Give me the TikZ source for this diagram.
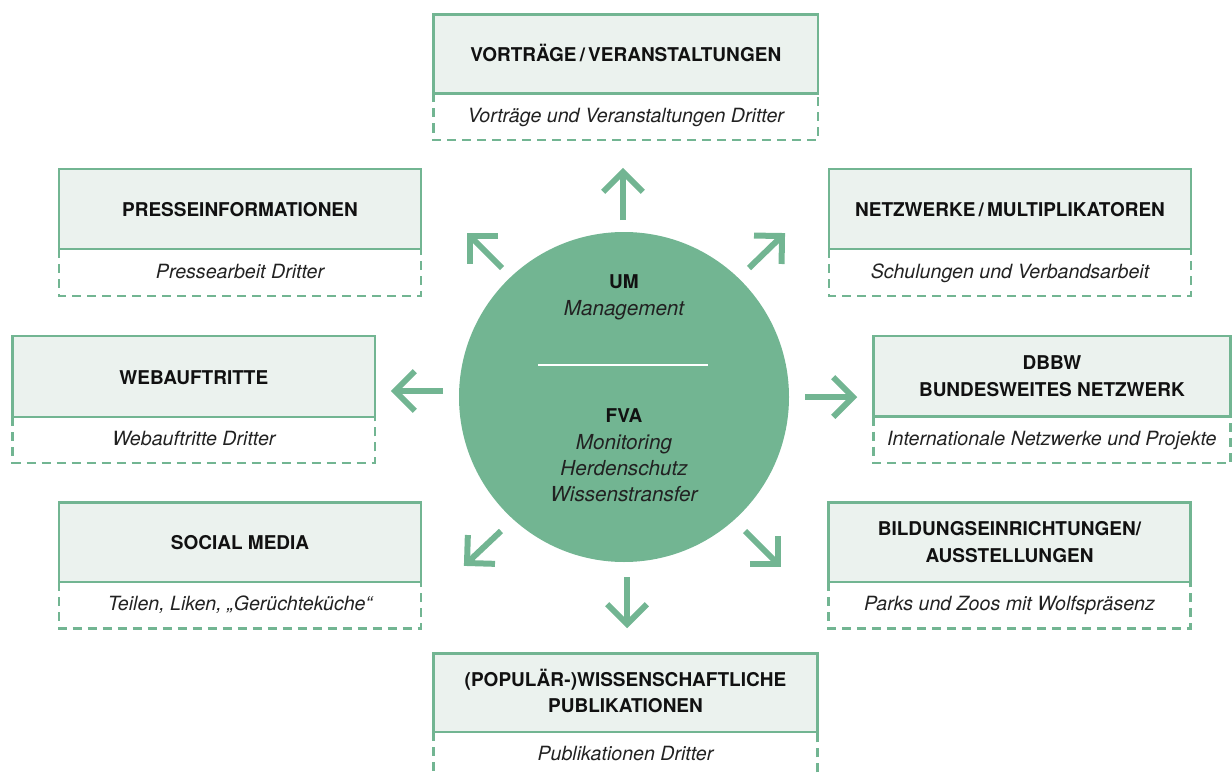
\documentclass[tikz,border=0pt]{standalone}
\usepackage{fontspec}
\setmainfont{TeX Gyre Heros}
\usetikzlibrary{calc}
\definecolor{fgreen}{RGB}{114,181,146}
\definecolor{lgreen}{RGB}{235,242,238}
\definecolor{txt}{RGB}{17,17,17}
\definecolor{subtxt}{RGB}{34,34,34}
\tikzset{
  solidbox/.style={draw=fgreen, fill=lgreen, line width=1.95pt, rectangle, inner sep=0pt, outer sep=0pt, anchor=north west},
  dashbox/.style={draw=fgreen, line width=1.95pt, dash pattern=on 6.75pt off 4.5pt},
  ttl/.style={font=\fontsize{14.25}{20}\selectfont\bfseries, text=txt, anchor=base, inner sep=0pt},
  sub/.style={font=\fontsize{14.7}{20}\selectfont\itshape, text=subtxt, anchor=base, inner sep=0pt},
  hubsub/.style={sub, font=\fontsize{15.5}{20}\selectfont\itshape},
  arrowline/.style={draw=fgreen, line width=4.5pt, line cap=butt, line join=miter},
  hub/.style={circle, fill=fgreen, draw=none, minimum size=247.5pt, inner sep=0pt},
}
\newcommand\ibox[6]{%
  \pgfmathsetmacro\bw{(#3-#2)*0.75}%
  \pgfmathsetmacro\bh{(#5-#4)*0.75}%
  \node[solidbox, minimum width=\bw pt, minimum height=\bh pt] (#1) at (#2,#4) {};
  \draw[dashbox] (#2,#5) -- (#2,#6) -- (#3,#6) -- (#3,#5);
  \coordinate (#1s) at ($(#2,#5)!0.5!(#3,#6)$);
}
\newcommand\arr[2]{%
  \draw[arrowline] (#1) -- (#2);
  \draw[arrowline] ($(#2)!21pt!45:(#1)$) -- (#2) -- ($(#2)!21pt!-45:(#1)$);
}
\begin{document}
\begin{tikzpicture}[x=0.75pt, y=-0.75pt]
\useasboundingbox (0,0) rectangle (1232,774);
% boxes
\ibox{b1}{433.5}{818}{14.5}{93.5}{140}
\ibox{b2}{59}{421}{169}{249}{296}
\ibox{b3}{829}{1191}{169}{249}{296}
\ibox{b4}{12.7}{375}{336}{417}{463}
\ibox{b5}{873.3}{1230.5}{336}{416.5}{463}
\ibox{b6}{59}{421}{502.7}{582}{628.5}
\ibox{b7}{828.3}{1190.7}{502.7}{582}{628.5}
\ibox{b8}{433.3}{817.7}{653.3}{732}{800}
% titles
\node[ttl] (t1) at ($(b1.center)+(0,7.5)$) {VORTRÄGE\,/\,VERANSTALTUNGEN};
\node[sub] (s1) at ($(b1s)+(0,5.5)$) {Vorträge und Veranstaltungen Dritter};
\node[ttl] (t2) at ($(b2.center)+(0,7.5)$) {PRESSEINFORMATIONEN};
\node[sub] (s2) at ($(b2s)+(0,5.5)$) {Pressearbeit Dritter};
\node[ttl] (t3) at ($(b3.center)+(0,7.5)$) {NETZWERKE\,/\,MULTIPLIKATOREN};
\node[sub] (s3) at ($(b3s)+(0,5.5)$) {Schulungen und Verbandsarbeit};
\node[ttl] (t4) at ($(b4.center)+(0,7.5)$) {WEBAUFTRITTE};
\node[sub] (s4) at ($(b4s)+(0,5.5)$) {Webauftritte Dritter};
\node[ttl] (t5a) at ($(b5.center)+(0,-6.5)$) {DBBW};
\node[ttl] (t5b) at ($(b5.center)+(0,20.1)$) {BUNDESWEITES NETZWERK};
\node[sub] (s5) at ($(b5s)+(0,5.5)$) {Internationale Netzwerke und Projekte};
\node[ttl] (t6) at ($(b6.center)+(0,7.5)$) {SOCIAL MEDIA};
\node[sub] (s6) at ($(b6s)+(0,5.5)$) {Teilen, Liken, „Gerüchteküche“};
\node[ttl] (t7a) at ($(b7.center)+(0,-6.5)$) {BILDUNGSEINRICHTUNGEN/};
\node[ttl] (t7b) at ($(b7.center)+(0,20.1)$) {AUSSTELLUNGEN};
\node[sub] (s7) at ($(b7s)+(0,5.5)$) {Parks und Zoos mit Wolfspräsenz};
\node[ttl] (t8a) at ($(b8.center)+(0,-6.5)$) {(POPULÄR-)WISSENSCHAFTLICHE};
\node[ttl] (t8b) at ($(b8.center)+(0,20.1)$) {PUBLIKATIONEN};
\node[sub] (s8) at (625.5,760.5) {Publikationen Dritter};
% hub
\node[hub] (c) at (624,397) {};
\node[ttl] (c1) at (624,288) {UM};
\node[hubsub] (c2) at (624,315.7) {Management};
\coordinate (dl1) at (538,365);
\coordinate (dl2) at (708,365);
\draw[white, line width=2pt] (dl1) -- (dl2);
\node[ttl] (c3) at (624,422.7) {FVA};
\node[hubsub] (c4) at (624,449) {Monitoring};
\node[hubsub] (c5) at (624,475) {Herdenschutz};
\node[hubsub] (c6) at (624,501) {Wissenstransfer};
% arrows
\coordinate (upT) at (623,220); \coordinate (upP) at (623,172);
\coordinate (dnT) at (627,577); \coordinate (dnP) at (627,624);
\coordinate (lfT) at (443,391); \coordinate (lfP) at (395,391);
\coordinate (rtT) at (805,397); \coordinate (rtP) at (853,397);
\coordinate (ulT) at (502,268); \coordinate (ulP) at (470,236);
\coordinate (urT) at (749,268); \coordinate (urP) at (782,236);
\coordinate (dlT) at (501,531); \coordinate (dlP) at (467,563);
\coordinate (drT) at (745,531); \coordinate (drP) at (778,564);
\arr{upT}{upP}
\arr{dnT}{dnP}
\arr{lfT}{lfP}
\arr{rtT}{rtP}
\arr{ulT}{ulP}
\arr{urT}{urP}
\arr{dlT}{dlP}
\arr{drT}{drP}
\end{tikzpicture}
\end{document}
